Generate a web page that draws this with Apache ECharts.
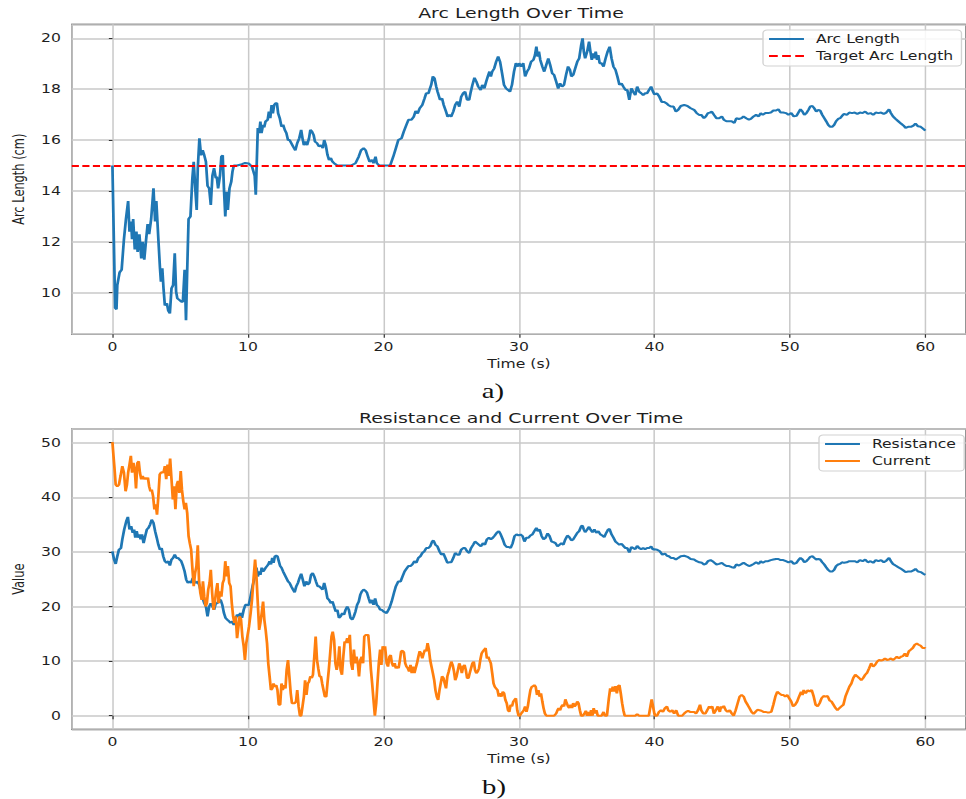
<!DOCTYPE html>
<html>
<head>
<meta charset="utf-8">
<script src="https://cdn.jsdelivr.net/npm/echarts@6/dist/echarts.min.js"></script>
<style>
html,body{margin:0;padding:0;background:#fff;overflow:hidden;}
#wrap{width:966px;height:799px;overflow:hidden;position:relative;}
#c{position:absolute;left:0;top:0;height:799px;transform-origin:0 0;}
</style>
</head>
<body>
<div id="wrap"><div id="c"></div></div>
<script>
// ---------------- data (time in s, value) ----------------
const arcLength = [[0,15.0],[0.2,9.4],[0.3,9.35],[0.36,10.3],[0.53,10.8],[0.68,10.9],[0.85,12.1],[1.0,12.9],[1.16,13.6],[1.26,12.4],[1.38,12.8],[1.45,12.1],[1.53,12.9],[1.65,11.7],[1.77,12.4],[1.86,11.6],[1.99,12.3],[2.13,11.35],[2.23,12.0],[2.35,11.3],[2.47,12.0],[2.6,12.7],[2.71,12.3],[2.86,12.9],[3.03,14.1],[3.15,12.8],[3.24,13.6],[3.39,12.1],[3.51,10.96],[3.58,10.43],[3.68,10.96],[3.77,10.17],[3.87,9.5],[4.02,9.58],[4.12,9.3],[4.24,9.19],[4.36,10.17],[4.48,10.3],[4.6,11.55],[4.7,10.04],[4.79,9.78],[4.96,9.71],[5.08,9.65],[5.2,9.65],[5.33,10.9],[5.43,8.92],[5.52,10.9],[5.62,12.9],[5.76,13.0],[5.9,14.5],[6.0,15.15],[6.13,13.97],[6.22,13.25],[6.3,14.9],[6.42,16.07],[6.54,15.4],[6.66,15.6],[6.78,15.4],[6.9,15.15],[7.02,14.2],[7.14,14.1],[7.26,13.45],[7.38,14.6],[7.5,14.9],[7.63,14.5],[7.7,14.56],[7.8,14.1],[7.94,14.6],[8.04,15.35],[8.14,15.4],[8.23,14.1],[8.33,13.0],[8.43,13.97],[8.52,13.25],[8.64,14.1],[8.77,14.36],[8.86,14.76],[8.96,15.0],[9.2,15.0],[9.56,15.05],[9.8,15.1],[10.05,15.08],
[10.3,14.96],[10.5,14.6],[10.58,13.85],[10.73,16.47],[10.83,16.27],[10.92,16.73],[11.0,16.27],[11.12,16.6],[11.2,16.5],[11.3,16.73],[11.46,16.8],[11.55,17.12],[11.65,16.86],[11.75,17.38],[11.84,17.05],[11.94,17.38],[12.04,17.45],[12.14,17.45],[12.23,17.05],[12.35,16.86],[12.48,16.53],[12.6,16.6],[12.72,16.4],[12.84,16.27],[12.96,16.0],[13.08,16.0],[13.2,15.88],[13.33,15.75],[13.5,15.6],[13.64,15.88],[13.79,16.07],[13.93,16.4],[14.03,16.07],[14.13,15.8],[14.25,15.94],[14.37,15.8],[14.51,16.07],[14.61,16.4],[14.73,16.33],[14.85,16.2],[14.95,15.94],[15.1,15.88],[15.24,15.75],[15.39,15.8],[15.53,15.68],[15.63,16.0],[15.75,15.8],[15.87,15.42],[15.99,15.22],[16.12,15.29],[16.24,15.15],[16.36,15.09],[16.6,15.0],[17.1,15.0],[17.6,15.0],[17.94,15.09],[18.18,15.35],[18.35,15.6],[18.54,15.68],[18.69,15.6],[18.84,15.35],[18.98,15.15],[19.15,15.22],[19.27,15.09],[19.42,15.35],[19.51,15.09],[19.7,15.0],[20.0,15.0],
[20.5,15.0],[20.73,15.35],[20.92,15.68],[21.1,16.0],[21.34,16.07],[21.5,16.33],[21.7,16.6],[21.85,16.8],[22.07,16.8],[22.24,16.92],[22.38,17.14],[22.53,17.05],[22.68,17.25],[22.87,17.38],[23.04,17.64],[23.16,17.84],[23.33,17.84],[23.4,17.97],[23.53,18.17],[23.65,18.5],[23.77,18.43],[23.9,18.1],[24.0,17.9],[24.18,17.58],[24.33,17.64],[24.45,17.38],[24.62,17.12],[24.74,16.92],[24.87,16.99],[25.0,16.92],[25.16,17.12],[25.3,17.38],[25.45,17.51],[25.6,17.31],[25.74,17.7],[25.89,17.84],[26.03,17.9],[26.18,17.58],[26.33,17.58],[26.45,17.9],[26.57,18.17],[26.72,18.45],[26.86,18.3],[27.0,18.1],[27.18,17.97],[27.3,18.17],[27.45,18.03],[27.59,18.3],[27.74,18.56],[27.83,18.69],[27.93,18.5],[28.03,18.69],[28.18,18.82],[28.32,19.08],[28.47,19.28],[28.61,19.08],[28.76,18.62],[28.9,18.17],[29.05,18.03],[29.2,17.97],[29.34,17.9],[29.49,18.17],[29.64,18.69],[29.78,19.02],[29.93,18.89],[30.02,19.02],[30.17,18.89],[30.32,19.02],[30.46,18.5],[30.6,18.69],[30.75,18.82],[30.9,19.08],[31.07,19.15],[31.19,19.34],[31.29,19.67],[31.39,19.28],[31.48,19.48],[31.58,19.15],[31.73,18.89],[31.87,18.69],[32.02,18.95],[32.17,19.21],[32.31,18.95],[32.46,18.62],[32.6,18.56],[32.75,18.3],[32.9,18.03],[33.04,18.23],[33.19,18.1],[33.33,18.17],[33.48,18.56],[33.63,18.89],[33.77,18.76],[33.87,18.5],[34.01,18.56],[34.16,18.82],[34.31,19.08],[34.45,19.21],[34.6,19.74],[34.7,20.0],[34.79,19.48],[34.89,19.21],[35.04,19.48],[35.18,19.87],[35.28,19.48],[35.38,19.15],[35.47,19.41],[35.57,19.21],[35.67,19.48],[35.77,19.15],[35.86,19.34],[35.96,19.02],[36.1,19.02],[36.25,18.89],[36.4,19.21],[36.55,19.48],[36.7,19.67],[36.84,19.21],[36.98,18.89],[37.13,18.76],[37.27,18.5],[37.42,18.17],[37.57,18.23],[37.71,18.1],[37.86,17.97],[38.0,17.97],[38.15,17.58],[38.3,18.03],[38.44,17.9],[38.59,17.77],[38.73,18.1],[38.88,17.9],[39.03,17.84],[39.17,17.77],[39.32,17.84],[39.46,17.84],[39.61,17.97],[39.76,18.1],[39.9,17.9],
[40.0,17.8],[40.2,17.83],[40.37,17.7],[40.54,17.5],[40.73,17.5],[40.88,17.45],[41.02,17.38],[41.22,17.32],[41.41,17.32],[41.59,17.12],[41.76,17.19],[41.95,17.34],[42.2,17.38],[42.44,17.34],[42.68,17.25],[42.93,17.19],[43.12,17.06],[43.3,16.99],[43.46,16.99],[43.66,16.86],[43.8,16.93],[43.95,17.06],[44.1,17.08],[44.24,17.12],[44.4,16.99],[44.58,16.86],[44.78,16.86],[44.98,16.93],[45.12,16.8],[45.32,16.74],[45.5,16.74],[45.7,16.74],[45.9,16.67],[46.05,16.86],[46.24,16.83],[46.44,16.86],[46.58,16.93],[46.78,16.86],[46.98,16.8],[47.12,16.83],[47.32,16.93],[47.51,16.99],[47.7,16.93],[47.85,17.06],[48.0,16.99],[48.2,17.06],[48.39,17.06],[48.59,17.08],[48.78,17.16],[48.98,17.16],[49.15,17.21],[49.32,17.08],[49.51,17.08],[49.71,17.06],[49.9,16.99],[50.1,17.06],[50.29,16.93],[50.49,16.95],[50.63,17.08],[50.78,17.21],[50.93,17.12],[51.07,16.99],[51.22,17.06],[51.37,17.19],[51.51,17.32],[51.66,17.34],[51.8,17.25],[51.95,17.12],[52.1,17.19],[52.24,17.16],[52.39,16.99],[52.54,16.86],[52.68,16.74],[52.83,16.6],[52.98,16.52],[53.12,16.52],[53.27,16.6],[53.41,16.74],[53.56,16.83],[53.71,16.86],[53.85,16.95],[54.0,17.03],[54.2,16.99],[54.39,17.08],[54.59,17.06],[54.78,17.08],[54.98,17.03],[55.17,17.08],[55.37,17.06],[55.56,17.12],[55.76,17.03],[55.95,17.06],[56.15,16.99],[56.34,17.08],[56.54,17.06],[56.73,17.08],[56.93,17.03],[57.12,17.08],[57.32,17.21],[57.46,17.06],[57.61,16.93],[57.8,16.83],[58.0,16.74],[58.2,16.65],[58.39,16.57],[58.54,16.48],[58.73,16.52],[58.93,16.52],[59.12,16.57],[59.27,16.65],[59.46,16.54],[59.66,16.52],[59.85,16.44],[60.0,16.37]];

const targetArcLength = 15;

const resistance = [[0,30.1],[0.12,28.6],[0.24,27.8],[0.36,29.2],[0.48,30.4],[0.63,30.7],[0.73,32.3],[0.87,34.1],[1.02,35.6],[1.14,36.4],[1.26,34.1],[1.38,34.7],[1.5,33.5],[1.6,34.1],[1.69,32.6],[1.79,33.8],[1.89,32.6],[1.99,33.2],[2.08,32.3],[2.18,33.2],[2.3,31.6],[2.42,32.9],[2.54,34.1],[2.66,34.4],[2.78,35.0],[2.9,35.9],[3.03,35.3],[3.15,33.8],[3.27,32.6],[3.39,31.3],[3.51,30.4],[3.63,30.7],[3.75,29.2],[3.87,28.3],[4.0,28.0],[4.12,28.3],[4.24,27.5],[4.36,28.6],[4.48,28.9],[4.6,29.5],[4.72,28.9],[4.84,28.9],[4.96,28.6],[5.08,28.3],[5.21,27.4],[5.33,26.4],[5.45,24.9],[5.57,24.3],[5.69,24.6],[5.81,24.3],[5.93,25.2],[6.05,24.6],[6.17,24.3],[6.3,24.6],[6.44,23.7],[6.54,22.5],[6.66,21.5],[6.78,20.6],[6.9,20.0],[7.02,18.2],[7.14,20.0],[7.26,20.6],[7.38,20.0],[7.5,19.4],[7.63,20.6],[7.75,20.6],[7.87,21.2],[7.99,21.2],[8.11,20.3],[8.23,18.8],[8.35,17.9],[8.47,17.6],[8.6,17.3],[8.72,17.0],[8.84,17.3],[8.96,16.6],[9.08,17.6],[9.2,18.5],[9.32,18.2],[9.44,18.8],[9.56,17.9],[9.69,19.4],[9.81,20.3],[9.93,20.3],
[10.05,20.2],[10.17,21.5],[10.34,23.7],[10.49,25.2],[10.63,27.1],[10.73,25.5],[10.83,26.4],[10.92,25.8],[11.02,27.1],[11.12,26.4],[11.21,26.7],[11.31,27.1],[11.41,27.4],[11.5,27.7],[11.6,28.3],[11.7,27.7],[11.8,28.9],[11.89,28.0],[11.99,29.2],[12.09,29.3],[12.18,29.2],[12.28,28.3],[12.38,27.4],[12.48,27.1],[12.6,26.4],[12.72,25.8],[12.84,25.2],[12.96,24.6],[13.08,24.3],[13.2,23.7],[13.33,23.1],[13.45,22.6],[13.57,23.7],[13.69,24.3],[13.81,25.2],[13.93,26.0],[14.05,24.9],[14.17,23.7],[14.3,24.6],[14.42,24.0],[14.54,24.3],[14.66,25.8],[14.78,26.1],[14.9,25.5],[15.02,24.6],[15.15,23.7],[15.27,23.7],[15.39,23.4],[15.51,23.1],[15.63,24.3],[15.75,23.1],[15.87,21.5],[15.99,21.2],[16.12,20.6],[16.24,20.9],[16.36,20.0],[16.48,19.1],[16.6,19.4],[16.72,17.9],[16.84,18.2],[16.97,18.8],[17.09,18.5],[17.21,19.4],[17.33,20.0],[17.45,19.4],[17.57,17.9],[17.7,17.6],[17.82,18.2],[17.94,19.1],[18.06,20.3],[18.18,20.9],[18.3,22.2],[18.42,22.8],[18.54,23.1],[18.67,22.9],[18.79,22.5],[18.91,21.5],[19.03,20.6],[19.15,21.2],[19.27,20.3],[19.39,21.5],[19.51,20.3],[19.64,20.0],[19.76,19.4],[19.88,19.4],
[20.0,19.1],[20.24,18.8],[20.44,19.7],[20.61,20.9],[20.78,22.5],[20.92,23.7],[21.1,24.6],[21.27,24.6],[21.41,25.5],[21.56,26.4],[21.7,26.9],[21.85,27.4],[22.0,27.4],[22.14,27.7],[22.29,28.3],[22.43,28.0],[22.58,28.9],[22.73,29.2],[22.87,29.8],[23.02,30.1],[23.16,30.7],[23.31,30.7],[23.45,31.0],[23.6,31.9],[23.7,32.1],[23.84,31.3],[23.99,31.0],[24.14,30.1],[24.28,29.5],[24.43,29.7],[24.57,28.9],[24.72,28.0],[24.87,28.1],[25.01,28.1],[25.16,28.9],[25.3,29.8],[25.45,29.5],[25.6,29.5],[25.74,30.4],[25.89,30.7],[26.03,30.7],[26.18,30.1],[26.33,29.8],[26.47,30.7],[26.62,31.3],[26.76,31.9],[26.91,31.6],[27.06,31.3],[27.2,31.0],[27.35,31.6],[27.49,31.3],[27.64,32.3],[27.79,32.6],[27.93,32.3],[28.08,32.6],[28.22,33.0],[28.37,33.5],[28.52,33.8],[28.66,33.2],[28.81,32.3],[28.95,31.3],[29.1,30.9],[29.25,30.9],[29.39,30.7],[29.54,31.6],[29.68,32.9],[29.83,33.2],[29.98,33.0],[30.12,33.2],[30.27,32.9],[30.41,31.9],[30.56,32.6],[30.71,32.6],[30.85,33.0],[31.0,33.2],[31.14,33.8],[31.29,34.4],[31.39,33.8],[31.53,34.1],[31.68,32.9],[31.82,32.3],[31.97,32.6],[32.12,33.4],[32.26,32.9],[32.41,31.9],[32.55,31.8],[32.7,31.6],[32.85,31.0],[32.99,31.3],[33.14,31.6],[33.28,31.3],[33.43,32.3],[33.58,33.0],[33.72,32.7],[33.87,32.1],[34.01,32.3],[34.16,32.9],[34.31,33.5],[34.45,33.8],[34.6,34.7],[34.7,34.8],[34.79,34.1],[34.89,33.6],[35.04,34.1],[35.18,34.6],[35.28,34.1],[35.43,33.6],[35.57,34.1],[35.72,33.5],[35.86,33.8],[36.01,33.2],[36.16,33.0],[36.3,32.7],[36.45,33.5],[36.59,34.1],[36.69,34.2],[36.84,33.2],[36.98,32.6],[37.13,31.9],[37.27,31.6],[37.42,31.3],[37.57,31.5],[37.71,31.1],[37.86,30.7],[38.0,30.7],[38.15,29.9],[38.3,30.9],[38.44,30.7],[38.59,30.5],[38.73,31.1],[38.88,30.7],[39.03,30.5],[39.17,30.7],[39.32,30.5],[39.46,30.7],[39.61,30.7],[39.76,31.0],[39.9,30.4],
[40.0,30.5],[40.2,30.4],[40.4,30.1],[40.59,29.5],[40.78,29.7],[40.93,29.3],[41.07,29.2],[41.22,28.9],[41.41,28.9],[41.59,28.6],[41.76,28.9],[41.95,29.2],[42.2,29.3],[42.44,29.1],[42.68,28.7],[42.93,28.6],[43.12,28.3],[43.32,28.1],[43.51,28.0],[43.66,27.7],[43.8,27.8],[43.95,28.3],[44.15,28.5],[44.29,28.3],[44.44,28.0],[44.59,27.7],[44.78,27.8],[44.98,28.0],[45.12,27.7],[45.32,27.4],[45.51,27.4],[45.71,27.2],[45.9,27.1],[46.05,27.7],[46.24,27.5],[46.44,27.8],[46.59,28.0],[46.78,27.7],[46.98,27.4],[47.12,27.5],[47.32,27.8],[47.51,28.1],[47.71,27.8],[47.85,28.3],[48.0,28.0],[48.2,28.3],[48.39,28.3],[48.59,28.5],[48.78,28.6],[48.98,28.7],[49.15,28.7],[49.32,28.5],[49.51,28.5],[49.71,28.3],[49.9,28.1],[50.1,28.3],[50.29,27.8],[50.49,28.0],[50.63,28.5],[50.78,28.9],[50.93,28.6],[51.07,28.1],[51.22,28.3],[51.37,28.7],[51.51,29.1],[51.66,29.2],[51.8,28.9],[51.95,28.6],[52.1,28.7],[52.24,28.6],[52.39,28.1],[52.54,27.7],[52.68,27.2],[52.83,26.7],[52.98,26.4],[53.12,26.4],[53.27,26.7],[53.41,27.4],[53.56,27.7],[53.71,27.8],[53.85,28.1],[54.0,28.0],[54.2,28.1],[54.39,28.3],[54.59,28.3],[54.78,28.3],[54.98,28.1],[55.17,28.5],[55.37,28.3],[55.56,28.6],[55.76,28.1],[55.95,28.3],[56.15,28.0],[56.34,28.5],[56.54,28.3],[56.73,28.5],[56.93,28.1],[57.12,28.4],[57.32,28.9],[57.46,28.3],[57.61,27.8],[57.8,27.5],[58.0,27.2],[58.2,26.9],[58.39,26.6],[58.54,26.3],[58.73,26.4],[58.93,26.4],[59.12,26.6],[59.27,26.9],[59.46,26.4],[59.66,26.3],[59.85,26.0],[60.0,25.8]];

const current = [[0,50.1],[0.1,46.9],[0.15,45.4],[0.24,42.3],[0.36,42.0],[0.48,42.3],[0.6,43.9],[0.73,45.7],[0.85,44.5],[0.97,41.1],[1.07,42.3],[1.16,44.5],[1.26,46.0],[1.36,47.6],[1.45,44.5],[1.55,46.3],[1.65,45.1],[1.74,41.6],[1.84,46.3],[1.94,46.6],[2.03,44.5],[2.13,43.3],[2.23,43.9],[2.32,43.3],[2.42,43.6],[2.52,43.3],[2.62,43.6],[2.71,42.0],[2.81,41.1],[2.9,41.4],[3.0,40.2],[3.1,37.8],[3.2,38.7],[3.29,36.8],[3.39,40.2],[3.49,44.2],[3.58,44.5],[3.68,44.6],[3.77,44.5],[3.87,45.7],[3.97,43.3],[4.07,46.0],[4.16,43.9],[4.26,47.1],[4.36,43.3],[4.46,39.6],[4.55,42.0],[4.65,37.8],[4.75,42.3],[4.84,43.0],[4.94,40.8],[5.04,44.8],[5.13,41.4],[5.23,39.3],[5.33,37.8],[5.42,39.0],[5.52,37.1],[5.62,32.9],[5.71,31.6],[5.81,30.4],[5.91,26.7],[6.0,23.7],[6.1,26.1],[6.2,27.4],[6.3,31.2],[6.39,24.9],[6.49,22.5],[6.59,21.2],[6.68,24.6],[6.78,21.8],[6.88,20.0],[6.97,20.6],[7.07,23.1],[7.17,24.3],[7.26,26.7],[7.36,22.5],[7.46,19.4],[7.55,20.6],[7.65,22.8],[7.75,24.3],[7.84,20.6],[7.94,22.8],[8.04,21.8],[8.14,24.3],[8.23,24.9],[8.33,28.3],[8.43,25.5],[8.52,27.4],[8.62,24.3],[8.72,23.7],[8.81,20.6],[8.91,18.2],[9.0,17.0],[9.1,18.2],[9.2,14.2],[9.3,16.3],[9.39,18.2],[9.49,17.6],[9.59,14.5],[9.69,12.7],[9.78,10.2],[9.88,13.3],[9.98,14.8],
[10.08,16.3],[10.2,18.8],[10.3,21.2],[10.41,24.9],[10.53,28.6],[10.63,25.5],[10.73,20.6],[10.83,15.7],[10.92,17.0],[11.02,18.8],[11.12,20.9],[11.21,17.6],[11.31,15.7],[11.41,13.3],[11.5,9.6],[11.6,7.2],[11.7,4.7],[11.8,5.0],[11.89,5.9],[11.99,5.3],[12.09,5.6],[12.18,4.7],[12.28,2.0],[12.38,2.0],[12.48,5.9],[12.57,4.7],[12.67,5.6],[12.77,5.0],[12.86,8.4],[12.96,10.2],[13.06,7.2],[13.16,4.1],[13.25,2.3],[13.35,2.3],[13.45,2.3],[13.55,2.6],[13.64,4.7],[13.74,1.7],[13.84,0],[13.93,0],[14.03,1.7],[14.13,3.5],[14.22,6.5],[14.32,3.8],[14.42,5.9],[14.51,6.2],[14.61,7.2],[14.71,6.9],[14.8,7.5],[14.9,10.8],[15.0,14.5],[15.1,10.2],[15.19,8.7],[15.29,7.2],[15.39,7.2],[15.48,5.9],[15.58,4.7],[15.68,3.5],[15.78,3.5],[15.87,5.9],[15.97,8.4],[16.07,11.4],[16.17,14.5],[16.26,15.4],[16.36,13.9],[16.46,9.6],[16.55,8.4],[16.65,9.6],[16.75,12.7],[16.84,8.4],[16.94,7.5],[17.04,10.8],[17.14,13.6],[17.23,13.3],[17.33,14.2],[17.43,13.3],[17.52,14.8],[17.62,9.6],[17.72,8.4],[17.82,12.1],[17.91,9.6],[18.01,10.8],[18.11,9.6],[18.2,7.2],[18.3,10.2],[18.4,10.8],[18.5,9.6],[18.59,14.5],[18.69,14.8],[18.79,14.8],[18.88,14.8],[18.98,12.1],[19.08,8.4],[19.17,5.9],[19.27,2.9],[19.37,0],[19.47,2.3],[19.56,5.9],[19.66,9.6],[19.76,12.1],[19.85,9.3],[19.95,12.7],
[20.05,12.1],[20.12,12.7],[20.24,9.6],[20.34,9.0],[20.44,10.8],[20.54,11.1],[20.63,9.6],[20.73,9.0],[20.83,9.6],[20.92,8.7],[21.02,9.0],[21.12,8.7],[21.22,10.2],[21.31,11.8],[21.41,11.9],[21.51,11.6],[21.61,9.6],[21.7,9.0],[21.8,8.7],[21.9,8.1],[22.0,9.3],[22.09,7.8],[22.19,9.0],[22.29,7.8],[22.38,8.7],[22.48,9.6],[22.58,10.8],[22.68,11.8],[22.77,11.4],[22.87,10.5],[22.97,11.4],[23.07,12.1],[23.16,11.8],[23.26,13.3],[23.36,12.1],[23.45,10.2],[23.55,9.0],[23.65,7.8],[23.75,6.5],[23.84,4.7],[23.94,3.5],[24.04,2.9],[24.14,4.7],[24.23,5.9],[24.33,7.2],[24.43,6.9],[24.53,5.9],[24.62,5.0],[24.72,7.2],[24.82,8.1],[24.91,9.0],[25.01,9.9],[25.11,9.3],[25.21,8.1],[25.3,6.5],[25.4,7.2],[25.5,8.4],[25.6,9.6],[25.69,9.0],[25.79,7.8],[25.89,9.0],[25.99,9.3],[26.08,8.4],[26.18,6.9],[26.28,6.9],[26.37,7.8],[26.47,8.7],[26.57,9.6],[26.67,9.9],[26.76,8.4],[26.86,7.8],[26.96,8.1],[27.06,8.7],[27.15,10.2],[27.25,11.4],[27.35,11.8],[27.45,12.1],[27.54,12.4],[27.64,10.5],[27.74,10.8],[27.83,10.2],[27.93,9.6],[28.03,7.8],[28.13,5.9],[28.22,5.3],[28.32,5.0],[28.42,4.7],[28.52,3.5],[28.61,4.1],[28.71,3.5],[28.81,4.4],[28.91,4.1],[29.0,2.9],[29.1,2.3],[29.2,1.0],[29.29,0.7],[29.39,2.0],[29.49,1.7],[29.59,2.6],[29.68,2.9],[29.78,3.2],[29.88,1.0],[29.98,0],[30.07,0],[30.17,0.4],[30.27,0.7],[30.36,1.0],[30.46,1.7],[30.56,0.7],[30.66,1.7],[30.75,3.2],[30.85,4.7],[30.95,5.3],[31.05,5.4],[31.14,5.6],[31.24,5.3],[31.34,3.8],[31.44,4.7],[31.53,3.5],[31.63,4.1],[31.73,2.6],[31.82,1.4],[31.92,0.4],[32.02,0],[32.6,0],[32.75,0.4],[32.85,1.0],[32.94,1.4],[33.04,1.0],[33.14,1.7],[33.24,2.0],[33.33,1.7],[33.43,3.0],[33.53,2.3],[33.63,1.7],[33.72,1.4],[33.82,2.0],[33.92,1.4],[34.01,2.3],[34.11,1.7],[34.21,2.0],[34.31,2.6],[34.4,2.3],[34.5,1.0],[34.6,0],[34.72,0],[34.84,0.4],[34.94,0.9],[35.04,0],[35.13,0.7],[35.23,0],[35.33,1.0],[35.43,0],[35.52,1.4],[35.62,0.4],[35.72,1.0],[35.82,0],[36.11,0],[36.25,0.7],[36.35,0],[36.5,0],[36.64,3.2],[36.74,5.0],[36.84,4.4],[36.93,5.3],[37.03,4.4],[37.13,5.4],[37.23,4.1],[37.32,5.4],[37.42,5.6],[37.52,4.1],[37.62,2.3],[37.71,1.0],[37.81,0],[38.6,0],[38.73,0.3],[38.86,0],[39.59,0],[39.71,1.7],[39.8,3.0],[39.9,1.7],[40.0,0.4],
[40.05,0],[40.2,0],[40.34,0.7],[40.49,1.0],[40.63,0.7],[40.78,1.4],[40.93,1.7],[41.02,1.0],[41.17,0.7],[41.32,1.0],[41.46,0.4],[41.61,1.0],[41.76,0],[42.05,0],[42.2,0.4],[42.34,0.7],[42.49,0.9],[42.63,0.7],[42.93,0.7],[43.07,0.4],[43.22,1.0],[43.37,2.0],[43.46,1.0],[43.61,0.4],[43.76,0.4],[43.9,1.0],[44.05,1.7],[44.15,1.4],[44.27,1.7],[44.39,0.4],[44.54,1.0],[44.68,1.7],[44.83,0.7],[44.93,1.7],[45.02,1.4],[45.12,1.8],[45.27,1.0],[45.41,0.7],[45.56,1.0],[45.71,0.4],[45.85,0],[46.0,1.0],[46.15,2.3],[46.29,3.5],[46.44,3.8],[46.59,3.5],[46.73,2.6],[46.88,2.0],[47.02,1.4],[47.17,0.7],[47.32,0.3],[47.46,0.7],[47.61,1.1],[47.76,1.0],[47.9,0.9],[48.05,0.7],[48.2,0.7],[48.34,0.6],[48.49,0.6],[48.63,0.7],[48.78,2.0],[48.93,3.5],[49.07,4.4],[49.22,4.1],[49.37,3.8],[49.51,3.8],[49.66,3.5],[49.8,3.8],[49.95,3.2],[50.1,2.6],[50.24,1.7],[50.39,2.0],[50.54,2.6],[50.68,3.5],[50.83,4.4],[50.93,3.8],[51.02,4.7],[51.17,4.1],[51.32,4.7],[51.46,4.4],[51.61,4.7],[51.76,3.5],[51.9,2.0],[52.05,1.7],[52.2,2.3],[52.34,3.2],[52.49,3.6],[52.63,3.5],[52.78,3.6],[52.93,2.8],[53.07,2.6],[53.22,2.0],[53.37,1.4],[53.51,1.0],[53.66,1.4],[53.8,1.7],[53.95,2.0],[54.1,3.5],[54.24,4.4],[54.39,5.3],[54.54,5.9],[54.68,6.9],[54.83,7.5],[54.98,7.2],[55.12,6.9],[55.27,6.5],[55.41,6.9],[55.56,7.5],[55.71,7.9],[55.85,8.7],[56.0,9.6],[56.15,9.0],[56.29,9.3],[56.44,9.9],[56.59,10.2],[56.73,10.1],[56.88,10.2],[57.02,10.5],[57.17,10.2],[57.32,10.3],[57.46,10.5],[57.61,10.2],[57.76,10.5],[57.9,10.8],[58.05,10.5],[58.2,10.8],[58.34,10.9],[58.49,11.4],[58.63,10.8],[58.78,11.8],[58.93,12.1],[59.07,12.4],[59.22,13.0],[59.37,13.2],[59.51,13.0],[59.66,12.8],[59.8,12.4],[59.95,12.4],[60.0,12.3]];

const titles = ['Arc Length Over Time', 'Resistance and Current Over Time'];
const panelLabels = ['a)', 'b)'];
const xName = 'Time (s)';
const yNames = ['Arc Length (cm)', 'Value'];

// ---------------- layout ----------------
const S = 1.37;                 // horizontal stretch of the reference picture
const W0 = 966 / S;
const X = v => v / S;           // convert final x pixel to pre-stretch pixel
const el = document.getElementById('c');
el.style.width = W0 + 'px';
el.style.transform = 'scaleX(' + S + ')';

const FONT = '"DejaVu Sans", Verdana, sans-serif';
const TXT = '#1e1e1e';
const GRIDC = '#c9c9c9';
const FS = 11.4;
const SOLID_ICON = 'path://M0,0H32V2H0Z';
const DASH_ICON = 'path://M0,0H8V2H0Z M12,0H20V2H12Z M24,0H32V2H24Z';

function xAxisCfg(idx) {
  return {
    type: 'value', gridIndex: idx, min: -3, max: 63, splitNumber: 6,
    name: xName, nameLocation: 'middle', nameGap: 24,
    nameTextStyle: { fontFamily: FONT, fontSize: FS, color: TXT },
    axisLine: { show: false },
    axisTick: { show: true, length: 3.5, lineStyle: { color: '#333', width: 0.9 } },
    axisLabel: { fontFamily: FONT, fontSize: FS, color: TXT, margin: 7, showMinLabel: false, showMaxLabel: false },
    splitLine: { show: true, lineStyle: { color: GRIDC, width: 1.1 } }
  };
}
function yAxisCfg(idx, min, max, split, name) {
  return {
    type: 'value', gridIndex: idx, min: min, max: max, splitNumber: split,
    name: name, nameLocation: 'middle', nameRotate: 90, nameGap: 31,
    nameTextStyle: { fontFamily: FONT, fontSize: FS, color: TXT },
    axisLine: { show: false },
    axisTick: { show: true, length: 2.6, lineStyle: { color: '#333', width: 1 } },
    axisLabel: { fontFamily: FONT, fontSize: FS, color: TXT, margin: 8, showMinLabel: false, showMaxLabel: false },
    splitLine: { show: true, lineStyle: { color: GRIDC, width: 1.5 } }
  };
}
function legendCfg(items, left, top) {
  return {
    data: items, orient: 'vertical', left: left, top: top,
    padding: [3, 6, 4, 4.4], itemGap: 5, itemWidth: 25.5, itemHeight: 2,
    symbolKeepAspect: false,
    itemStyle: { borderWidth: 0 },
    backgroundColor: 'rgba(255,255,255,0.85)', borderColor: '#d2d2d2', borderWidth: 1, borderRadius: 3,
    textStyle: { fontFamily: FONT, fontSize: FS, color: TXT, lineHeight: 12, padding: [0, 0, 0, 3.7] },
    selectedMode: false
  };
}
function lineSeries(name, data, color, xi) {
  return {
    type: 'line', name: name, data: data, xAxisIndex: xi, yAxisIndex: xi,
    symbol: 'none', showSymbol: false, smooth: false,
    lineStyle: { color: color, width: 2 }, itemStyle: { color: color },
    z: 3
  };
}

const chart = echarts.init(el, null, { renderer: 'svg', width: W0, height: 799 });
chart.setOption({
  animation: false,
  backgroundColor: '#fff',
  grid: [
    { left: X(68.8), top: 24.3, width: X(906.1), height: 309.9, show: true, borderColor: '#333', borderWidth: 1, backgroundColor: 'transparent' },
    { left: X(68.8), top: 429.05, width: X(906.1), height: 300.3, show: true, borderColor: '#333', borderWidth: 1, backgroundColor: 'transparent' }
  ],
  xAxis: [xAxisCfg(0), xAxisCfg(1)],
  yAxis: [yAxisCfg(0, 8.37, 20.55, 6, yNames[0]), yAxisCfg(1, -2.5, 52.5, 5, yNames[1])],
  legend: [
    legendCfg([{ name: 'Arc Length', icon: SOLID_ICON }, { name: 'Target Arc Length', icon: DASH_ICON }], X(763), 30),
    legendCfg([{ name: 'Resistance', icon: SOLID_ICON }, { name: 'Current', icon: SOLID_ICON }], X(819), 435)
  ],
  graphic: [
    { type: 'text', x: X(521), y: 13, style: { text: titles[0], font: '13.8px ' + FONT, fill: TXT, align: 'center', verticalAlign: 'middle', textAlign: 'center', textVerticalAlign: 'middle' } },
    { type: 'text', x: X(521), y: 418, style: { text: titles[1], font: '13.8px ' + FONT, fill: TXT, align: 'center', verticalAlign: 'middle', textAlign: 'center', textVerticalAlign: 'middle' } },
    { type: 'text', x: X(493), y: 391, style: { text: panelLabels[0], font: '21px "Liberation Serif", "Times New Roman", serif', fill: '#111', align: 'center', verticalAlign: 'middle', textAlign: 'center', textVerticalAlign: 'middle' } },
    { type: 'text', x: X(494), y: 787, style: { text: panelLabels[1], font: '21px "Liberation Serif", "Times New Roman", serif', fill: '#111', align: 'center', verticalAlign: 'middle', textAlign: 'center', textVerticalAlign: 'middle' } }
  ],
  series: [
    lineSeries('Arc Length', arcLength, '#1f77b4', 0),
    {
      type: 'line', name: 'Target Arc Length', data: [], xAxisIndex: 0, yAxisIndex: 0,
      symbol: 'none', showSymbol: false,
      lineStyle: { color: '#ff0000', width: 1.8, type: [5.2, 2.5] }, itemStyle: { color: '#ff0000' },
      markLine: {
        silent: true, symbol: ['none', 'none'], label: { show: false }, animation: false,
        lineStyle: { color: '#ff0000', width: 1.8, type: [5.2, 2.5] },
        data: [{ yAxis: targetArcLength }]
      },
      z: 4
    },
    lineSeries('Resistance', resistance, '#1f77b4', 1),
    lineSeries('Current', current, '#ff7f0e', 1)
  ]
});
</script>
</body>
</html>
